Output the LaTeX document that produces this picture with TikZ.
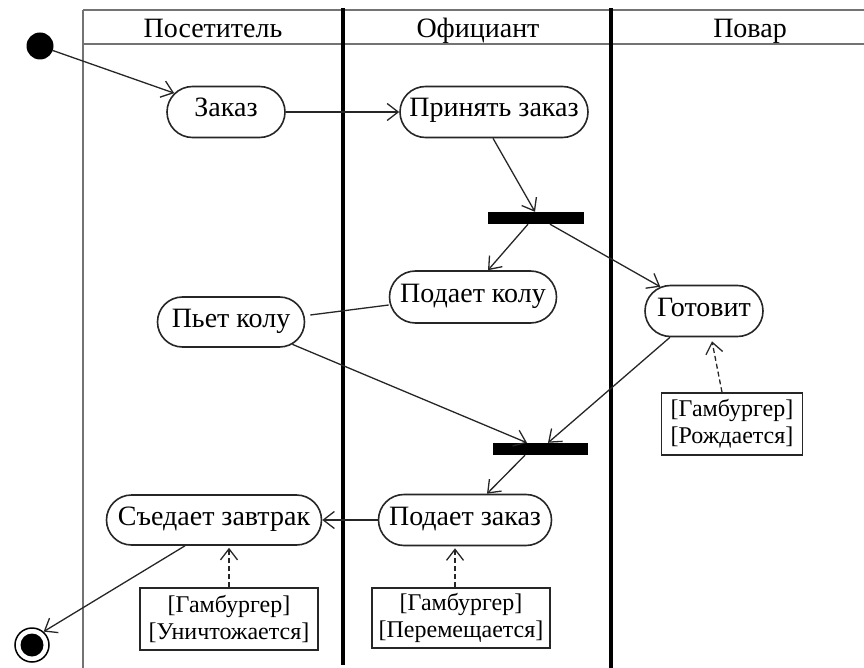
\documentclass[tikz,border=0pt]{standalone}
\usepackage{fontspec}
\setmainfont{Liberation Serif}
\usetikzlibrary{arrows.meta,shapes.misc}
\begin{document}
\begin{tikzpicture}[x=1pt,y=-1pt,
  every node/.style={font=\fontsize{28}{30}\selectfont},
  act/.style={rounded rectangle, draw=black!85, line width=1.6pt, inner sep=0pt, text height=18pt, text depth=8pt},
  bar/.style={fill=black, draw=none, minimum width=96pt, minimum height=12pt, inner sep=0pt},
  obj/.style={draw=black!85, line width=1.6pt, inner sep=0pt, align=center, font=\fontsize{24}{27}\selectfont},
  flow/.style={line width=1.3pt, draw=black!85, -{Straight Barb[length=11pt,width=17pt,line width=1.3pt]}},
  dep/.style={flow, dashed, dash pattern=on 5pt off 3pt},
  lane/.style={line width=4pt, black},
  frame/.style={line width=2pt, black!55},
  head/.style={anchor=base, inner sep=0pt}]
\useasboundingbox (0,0) rectangle (864,668);
% swimlanes
\draw[frame] (83,10) -- (864,10);
\draw[frame] (83,44) -- (864,44);
\draw[frame] (83,10) -- (83,668);
\draw[lane] (343,8) -- (343,665);
\draw[lane] (611,8) -- (611,668);
\node[head] (h1) at (213,38) {Посетитель};
\node[head] (h2) at (478,38) {Официант};
\node[head] (h3) at (750,38) {Повар};
% nodes
\node[circle, fill=black, minimum size=27pt, inner sep=0pt] (start) at (40,46) {};
\node[act, minimum width=118pt, minimum height=51pt] (zak) at (226,112) {Заказ};
\node[act, minimum width=188pt, minimum height=51pt] (pz) at (494,112) {Принять заказ};
\node[bar] (b1) at (536,218) {};
\node[act, minimum width=167pt, minimum height=52pt] (pk) at (473,297) {Подает колу};
\node[act, minimum width=118pt, minimum height=51pt] (got) at (704,311) {Готовит};
\node[act, minimum width=147pt, minimum height=50pt] (pk2) at (231,322) {Пьет колу};
\node[obj, minimum width=141pt, minimum height=62pt] (o1) at (732,424) {{[Гамбургер]}\\{[Рождается]}};
\node[bar, minimum width=95pt] (b2) at (540,449) {};
\node[act, minimum width=173pt, minimum height=51pt] (pz2) at (465,520) {Подает заказ};
\node[act, minimum width=215pt, minimum height=50pt] (se) at (214,520) {Съедает завтрак};
\node[obj, minimum width=178pt, minimum height=62pt] (o2) at (229,619) {{[Гамбургер]}\\{[Уничтожается]}};
\node[obj, minimum width=178pt, minimum height=60pt] (o3) at (461,618) {{[Гамбургер]}\\{[Перемещается]}};
\node[circle, draw=black, line width=1.5pt, minimum size=34pt, inner sep=0pt] (fin) at (32,645) {};
\node[circle, fill=black, minimum size=23pt, inner sep=0pt] (finin) at (fin.center) {};
% connectors
\draw[flow] (start) -- (zak.160);
\draw[flow] (zak.east) -- (pz.west);
\draw[flow] ([xshift=-1pt]pz.south) -- ([xshift=-1pt]b1.north);
\draw[flow] ([xshift=-8pt]b1.south) -- ([xshift=15pt]pk.north);
\draw[flow] ([xshift=14pt]b1.south) -- (got.151);
\draw[line width=1.3pt, black!85] ([xshift=5pt,yshift=7pt]pk2.east) -- ([yshift=-8pt]pk.west);
\draw[flow] (pk2.-20) -- ([xshift=-13pt]b2.north);
\draw[flow] ([xshift=-34pt]got.south) -- ([xshift=8pt]b2.north);
\draw[dep] ([xshift=-10pt]o1.north) -- ([xshift=8pt,yshift=-4pt]got.south);
\draw[flow] ([xshift=-15pt]b2.south) -- ([xshift=22pt]pz2.north);
\draw[flow] (pz2.west) -- (se.east);
\draw[dep] ([xshift=-6pt]o3.north) -- ([xshift=-10pt,yshift=-2pt]pz2.south);
\draw[dep] (o2.north) -- ([xshift=15pt,yshift=-2pt]se.south);
\draw[flow] ([xshift=-29pt]se.south) -- (fin.49);
\end{tikzpicture}
\end{document}
